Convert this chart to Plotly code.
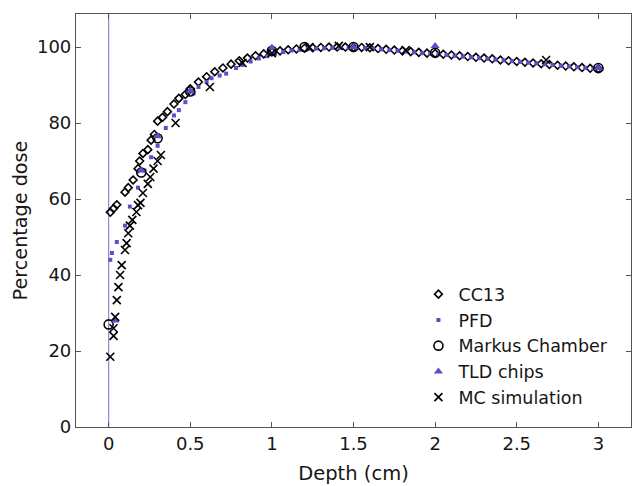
import plotly.graph_objects as go

# Depth-dose measurements (depth in cm, dose in %)
cc13_depth = [0.01, 0.03, 0.05, 0.10, 0.12, 0.15, 0.18, 0.19, 0.21, 0.24, 0.26, 0.28, 0.30, 0.33,
              0.36, 0.40, 0.43, 0.47, 0.50, 0.55, 0.60, 0.65, 0.70, 0.75, 0.80, 0.85, 0.90,
              0.95, 1.00, 1.05, 1.10, 1.15, 1.20, 1.25, 1.30, 1.35, 1.40, 1.45, 1.50, 1.55,
              1.60, 1.65, 1.70, 1.75, 1.80, 1.85, 1.90, 1.95, 2.00, 2.05, 2.10, 2.15, 2.20,
              2.25, 2.30, 2.35, 2.40, 2.45, 2.50, 2.55, 2.60, 2.65, 2.70, 2.75, 2.80, 2.85,
              2.90, 2.95, 3.00]
cc13_dose = [56.5, 57.5, 58.5, 61.8, 63.0, 65.0, 68.0, 70.0, 72.0, 73.0, 75.5, 77.0, 80.5, 81.5,
             83.0, 85.0, 86.5, 87.5, 89.0, 90.8, 92.2, 93.5, 94.5, 95.5, 96.4, 97.1, 97.7,
             98.2, 98.7, 99.0, 99.3, 99.5, 99.7, 99.8, 99.9, 100.0, 100.0, 100.0, 99.9, 99.9,
             99.8, 99.6, 99.4, 99.2, 99.0, 98.8, 98.6, 98.4, 98.3, 98.1, 97.9, 97.7, 97.5,
             97.3, 97.1, 96.9, 96.6, 96.4, 96.2, 96.0, 95.8, 95.6, 95.4, 95.2, 95.0, 94.8,
             94.6, 94.4, 94.3]

pfd_depth = [0.01, 0.02, 0.05, 0.10, 0.13, 0.18, 0.22, 0.26, 0.30, 0.35, 0.40, 0.43, 0.47, 0.52,
             0.55, 0.60, 0.63, 0.68, 0.72, 0.78, 0.82, 0.87, 0.92, 0.97, 1.02, 1.07, 1.12,
             1.17, 1.22, 1.27, 1.32, 1.37, 1.42, 1.47, 1.52, 1.57, 1.62, 1.67, 1.72, 1.77,
             1.82, 1.87, 1.92, 1.97, 2.02, 2.07, 2.12, 2.17, 2.22, 2.27, 2.32, 2.37, 2.42,
             2.47, 2.52, 2.57, 2.62, 2.67, 2.72, 2.77, 2.82, 2.87, 2.92, 2.97, 3.02]
pfd_dose = [44.0, 45.8, 48.7, 53.0, 58.0, 63.0, 67.5, 71.0, 74.0, 78.7, 82.0, 83.4, 85.5, 87.8,
            89.5, 90.8, 91.8, 92.5, 93.0, 94.5, 95.3, 96.2, 97.0, 97.6, 98.2, 98.7, 99.1,
            99.3, 99.5, 99.6, 99.7, 99.8, 99.8, 99.8, 99.8, 99.7, 99.6, 99.4, 99.2, 99.0,
            98.8, 98.6, 98.4, 98.2, 98.1, 97.9, 97.7, 97.5, 97.3, 97.1, 96.9, 96.7, 96.5,
            96.3, 96.1, 95.9, 95.7, 95.5, 95.3, 95.1, 94.9, 94.7, 94.5, 94.3, 94.2]

markus_depth = [0.00, 0.20, 0.30, 0.50, 1.00, 1.20, 1.50, 2.00, 3.00]
markus_dose = [27.0, 67.0, 76.0, 88.3, 99.0, 100.0, 100.0, 98.5, 94.5]

tld_depth = [0.04, 0.20, 0.30, 0.50, 1.00, 1.50, 2.00, 3.00]
tld_dose = [28.0, 67.5, 76.5, 88.5, 99.8, 100.0, 100.3, 94.5]

mc_depth = [0.01, 0.03, 0.03, 0.04, 0.05, 0.06, 0.07, 0.08, 0.10, 0.11, 0.12, 0.13, 0.145,
            0.17, 0.18, 0.195, 0.21, 0.24, 0.255, 0.275, 0.30, 0.32, 0.41, 0.62, 0.82,
            1.00, 1.23, 1.41, 1.60, 1.82, 2.68]
mc_dose = [18.5, 24.0, 26.0, 29.0, 33.4, 36.8, 40.0, 42.6, 46.6, 48.4, 51.0, 53.0, 54.5,
           56.6, 58.4, 59.0, 61.6, 64.0, 65.8, 68.0, 70.0, 71.6, 80.0, 89.5, 95.8,
           98.4, 100.0, 100.3, 100.0, 99.2, 96.6]

x_ticks = [0, 0.5, 1, 1.5, 2, 2.5, 3]
x_tick_text = ["0", "0.5", "1", "1.5", "2", "2.5", "3"]
y_ticks = [0, 20, 40, 60, 80, 100]

PURPLE = "#5a4fc8"
FRAME = "#555555"
FONT = "DejaVu Sans, Verdana, sans-serif"
INK = "#161616"

fig = go.Figure()

# Surface reference line at zero depth
fig.add_shape(type="line", xref="x", yref="paper", x0=0, x1=0, y0=0, y1=1,
              line=dict(color="#8a86d8", width=1.2), layer="below")

fig.add_trace(go.Scatter(x=cc13_depth, y=cc13_dose, mode="markers", name="CC13",
                         marker=dict(symbol="diamond-open", size=6, color="black",
                                     line=dict(width=1.6, color="black"))))
fig.add_trace(go.Scatter(x=pfd_depth, y=pfd_dose, mode="markers", name="PFD",
                         marker=dict(symbol="square", size=4, color=PURPLE,
                                     line=dict(width=0))))
fig.add_trace(go.Scatter(x=markus_depth, y=markus_dose, mode="markers", name="Markus Chamber",
                         marker=dict(symbol="circle-open", size=9, color="black",
                                     line=dict(width=1.6, color="black"))))
fig.add_trace(go.Scatter(x=tld_depth, y=tld_dose, mode="markers", name="TLD chips",
                         marker=dict(symbol="triangle-up", size=8, color=PURPLE,
                                     line=dict(width=0))))
fig.add_trace(go.Scatter(x=mc_depth, y=mc_dose, mode="markers", name="MC simulation",
                         marker=dict(symbol="x-thin", size=8, color="black",
                                     line=dict(width=1.6, color="black"))))

axis_common = dict(showgrid=False, zeroline=False, showline=True, linecolor=FRAME,
                   linewidth=1.2, mirror="ticks", ticks="inside", ticklen=5,
                   tickcolor=FRAME, tickwidth=1,
                   tickfont=dict(family=FONT, size=18, color=INK))

fig.update_xaxes(range=[-0.2, 3.2], tickvals=x_ticks, ticktext=x_tick_text,
                 title=dict(text="Depth (cm)", standoff=13,
                            font=dict(family=FONT, size=19.5, color=INK)),
                 **axis_common)
fig.update_yaxes(range=[0, 108.7], tickvals=y_ticks,
                 title=dict(text="Percentage dose", standoff=4,
                            font=dict(family=FONT, size=19.2, color=INK)),
                 **axis_common)

fig.update_layout(
    width=632, height=486,
    margin=dict(l=76, r=1, t=14, b=59),
    paper_bgcolor="white", plot_bgcolor="white",
    showlegend=True,
    legend=dict(x=0.617, y=0.365, xanchor="left", yanchor="top",
                bgcolor="rgba(255,255,255,0)", borderwidth=0,
                itemsizing="trace", tracegroupgap=0,
                font=dict(family=FONT, size=17.5, color=INK)),
)

fig.write_html("out.html")
